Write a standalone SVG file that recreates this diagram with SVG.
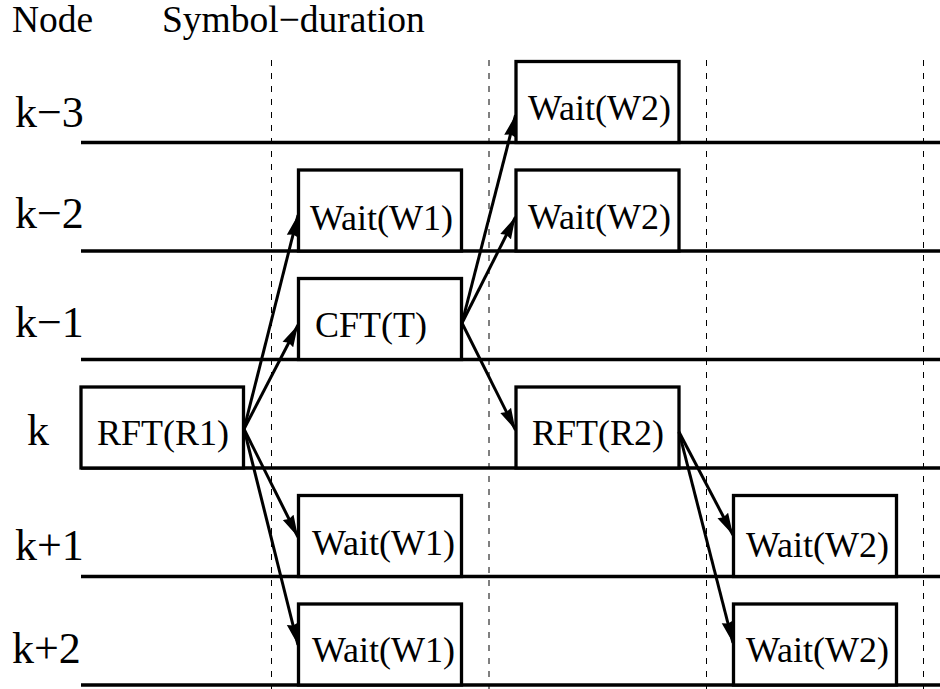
<svg xmlns="http://www.w3.org/2000/svg" width="940" height="689" viewBox="0 0 940 689">
<style>
  .bg{fill:#ffffff}
  .grid{stroke:#000;stroke-width:1;stroke-dasharray:6 7;fill:none}
  .row{stroke:#000;stroke-width:3.3;fill:none}
  .box{stroke:#000;stroke-width:3.3;fill:#fff}
  text{font-family:"Liberation Serif","Times New Roman",Times,serif;fill:#000}
  .lbl{font-size:36px}
  .rowlbl{font-size:44px}
  .hdr{font-size:37.5px}
  .arr{stroke:#000;stroke-width:3;fill:none;marker-end:url(#ah)}
</style>
<defs>
  <marker id="ah" markerUnits="userSpaceOnUse" viewBox="0 0 23 13" markerWidth="23" markerHeight="13" refX="22" refY="6.5" orient="auto">
    <path d="M0,0.5 L22,6.5 L0,12.5 L2,6.5 z" fill="#000"/>
  </marker>
</defs>
<rect class="bg" x="0" y="0" width="940" height="689"/>

<g id="header">
  <text class="hdr" x="12" y="32">Node</text>
  <text class="hdr" x="162" y="32">Symbol−duration</text>
</g>

<g id="grid">
  <line class="grid" x1="271.5" y1="60" x2="271.5" y2="689"/>
  <line class="grid" x1="489" y1="60" x2="489" y2="689"/>
  <line class="grid" x1="706.5" y1="60" x2="706.5" y2="689"/>
  <line class="grid" x1="923.5" y1="60" x2="923.5" y2="689"/>
</g>

<g id="rows">
  <line class="row" x1="81" y1="142.5" x2="940" y2="142.5"/>
  <line class="row" x1="81" y1="251" x2="940" y2="251"/>
  <line class="row" x1="81" y1="359.5" x2="940" y2="359.5"/>
  <line class="row" x1="81" y1="468" x2="940" y2="468"/>
  <line class="row" x1="81" y1="576.5" x2="940" y2="576.5"/>
  <line class="row" x1="81" y1="685" x2="940" y2="685"/>
  <text class="rowlbl" x="15" y="127">k−3</text>
  <text class="rowlbl" x="15" y="228">k−2</text>
  <text class="rowlbl" x="15" y="337">k−1</text>
  <text class="rowlbl" x="27" y="445">k</text>
  <text class="rowlbl" x="15" y="560">k+1</text>
  <text class="rowlbl" x="12" y="663">k+2</text>
</g>

<g id="rft-r1">
  <rect class="box" x="81" y="387" width="162.5" height="81"/>
  <text class="lbl" x="97" y="445">RFT(R1)</text>
</g>
<g id="wait-w1-km2">
  <rect class="box" x="298.5" y="170" width="163" height="81"/>
  <text class="lbl" x="310" y="230">Wait(W1)</text>
</g>
<g id="cft-t">
  <rect class="box" x="298.5" y="278.5" width="163" height="81"/>
  <text class="lbl" x="315" y="337">CFT(T)</text>
</g>
<g id="wait-w1-kp1">
  <rect class="box" x="298.5" y="495.5" width="163" height="81"/>
  <text class="lbl" x="312" y="555">Wait(W1)</text>
</g>
<g id="wait-w1-kp2">
  <rect class="box" x="298.5" y="604" width="163" height="81"/>
  <text class="lbl" x="312" y="662">Wait(W1)</text>
</g>
<g id="wait-w2-km3">
  <rect class="box" x="516" y="61.5" width="163" height="81"/>
  <text class="lbl" x="528" y="120">Wait(W2)</text>
</g>
<g id="wait-w2-km2">
  <rect class="box" x="516" y="170" width="163" height="81"/>
  <text class="lbl" x="528" y="229">Wait(W2)</text>
</g>
<g id="rft-r2">
  <rect class="box" x="516" y="387" width="163" height="81"/>
  <text class="lbl" x="532" y="445">RFT(R2)</text>
</g>
<g id="wait-w2-kp1">
  <rect class="box" x="733.5" y="495.5" width="163" height="81"/>
  <text class="lbl" x="746" y="557">Wait(W2)</text>
</g>
<g id="wait-w2-kp2">
  <rect class="box" x="733.5" y="604" width="163" height="81"/>
  <text class="lbl" x="746" y="662">Wait(W2)</text>
</g>

<g id="connectors">
  <line class="arr" x1="244" y1="429" x2="298" y2="215"/>
  <line class="arr" x1="244" y1="429" x2="298" y2="325"/>
  <line class="arr" x1="244" y1="429" x2="298" y2="537"/>
  <line class="arr" x1="244" y1="429" x2="298" y2="645"/>
  <line class="arr" x1="462" y1="323" x2="515.5" y2="115"/>
  <line class="arr" x1="462" y1="323" x2="515.5" y2="217"/>
  <line class="arr" x1="462" y1="323" x2="515.5" y2="430"/>
  <line class="arr" x1="679" y1="432" x2="733" y2="535"/>
  <line class="arr" x1="679" y1="432" x2="733" y2="643"/>
</g>
</svg>
